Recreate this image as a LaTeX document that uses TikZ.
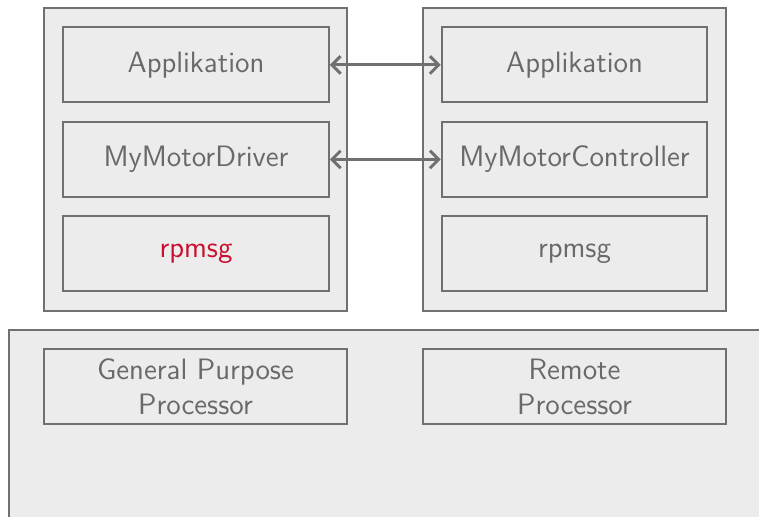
\documentclass[tikz,border=0pt]{standalone}
\usepackage{tikz}
\usetikzlibrary{positioning}
\usetikzlibrary{arrows.meta}
\usepackage{xcolor}

\definecolor{linegray}{RGB}{112,112,112}
\definecolor{boxfill}{RGB}{236,236,236}
\definecolor{textgray}{RGB}{105,105,105}
\definecolor{msgred}{RGB}{200,16,46}

\tikzset{
    layer/.style={draw=linegray, fill=boxfill, line width=0.8pt, inner sep=0pt,
        minimum width=106.2pt, minimum height=30pt, text=textgray, align=center,
        font=\sffamily\fontsize{11.8}{14}\selectfont},
    proc/.style={layer, minimum width=121.2pt},
    core/.style={draw=linegray, fill=boxfill, line width=0.8pt, inner sep=0pt,
        minimum width=121.2pt, minimum height=121.2pt},
    link/.style={draw=linegray, line width=1.2pt,
        {Straight Barb[length=3.5pt,width=7pt]}-{Straight Barb[length=3.5pt,width=7pt]}}
}

\begin{document}
\begin{tikzpicture}[x=0.4pt, y=-0.4pt]
    \useasboundingbox (0,0) rectangle (759,517);
    \clip (0,0) rectangle (759,517);

    % SoC underneath
    \node[draw=linegray, fill=boxfill, line width=0.8pt, inner sep=0pt, anchor=north west,
        minimum width=320pt, minimum height=90pt] (soc) at (8,329) {};
    \node[proc] (gpp) at (195.5,386.5) {General Purpose\\Processor};
    \node[proc] (rproc) at (574.5,386.5) {Remote\\Processor};

    % Linux side
    \node[core] (left) at (195.5,159.5) {};
    \node[layer] (appL) at (196,65) {Applikation};
    \node[layer, below=7pt of appL] (drvL) {MyMotorDriver};
    \node[layer, below=7pt of drvL, text=msgred] (msgL) {rpmsg};

    % Remote side
    \node[core] (right) at (574.5,159.5) {};
    \node[layer] (appR) at (574.5,65) {Applikation};
    \node[layer, below=7pt of appR] (drvR) {MyMotorController};
    \node[layer, below=7pt of drvR] (msgR) {rpmsg};

    % Communication
    \draw[link] (appL) -- (appR);
    \draw[link] (drvL) -- (drvR);
\end{tikzpicture}
\end{document}
